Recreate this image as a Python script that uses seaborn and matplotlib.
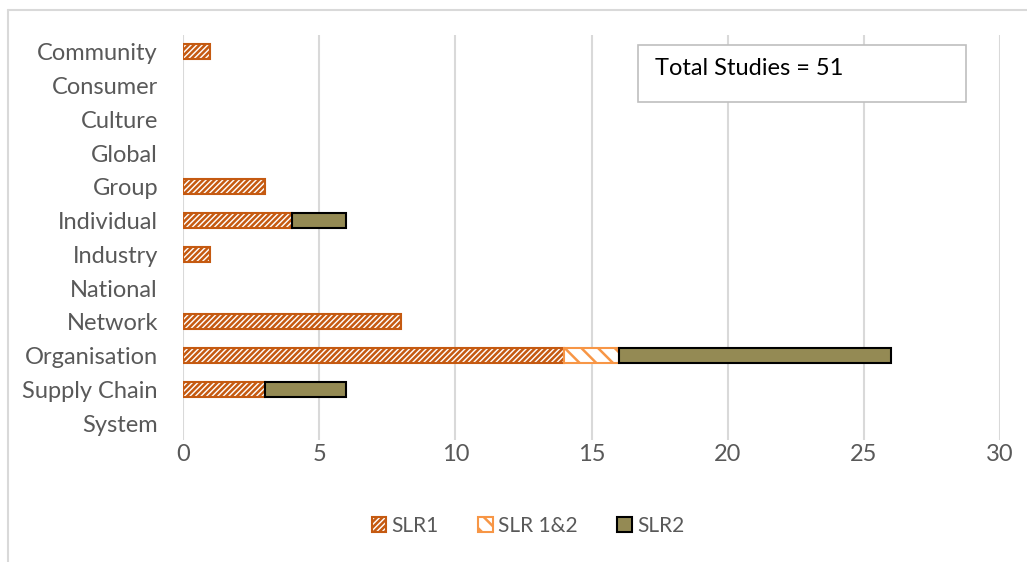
import matplotlib
matplotlib.use("Agg")
import matplotlib.pyplot as plt
from matplotlib.patches import Rectangle, Patch
from matplotlib.lines import Line2D
import seaborn as sns
import pandas as pd
import numpy as np

# Study counts per level of analysis
categories = ["Community", "Consumer", "Culture", "Global", "Group", "Individual",
              "Industry", "National", "Network", "Organisation", "Supply Chain", "System"]
slr1 = [1, 0, 0, 0, 3, 4, 1, 0, 8, 14, 3, 0]
slr12 = [0, 0, 0, 0, 0, 0, 0, 0, 0, 2, 0, 0]
slr2 = [0, 0, 0, 0, 0, 2, 0, 0, 0, 10, 3, 0]
series_names = ["SLR1", "SLR 1&2", "SLR2"]
x_ticks = [0, 5, 10, 15, 20, 25, 30]
total_label = "Total Studies = 51"

sns.set_theme(style="white")
plt.rcParams["font.family"] = ["Lato", "DejaVu Sans"]
plt.rcParams["hatch.linewidth"] = 1.8

text_grey = "#595959"
grid_grey = "#d9d9d9"
fs = 17
styles = {
    "SLR1": dict(facecolor="white", edgecolor="#C55A11", hatch="//////", linewidth=1.5),
    "SLR 1&2": dict(facecolor="white", edgecolor="#F79646", hatch="\\\\", linewidth=1.5),
    "SLR2": dict(facecolor="#948A54", edgecolor="black", hatch=None, linewidth=1.5),
}

fig = plt.figure(figsize=(10.27, 5.62), dpi=100)
ax = fig.add_axes([183 / 1027, 1 - 440 / 562, (1000 - 183) / 1027, (440 - 35) / 562])

values = {"SLR1": slr1, "SLR 1&2": slr12, "SLR2": slr2}
start = np.zeros(len(categories))
for name in series_names:
    vals = np.array(values[name], dtype=float)
    df = pd.DataFrame({"category": categories, "value": vals})
    df = df[df["value"] > 0]
    st = styles[name]
    n_before = len(ax.patches)
    sns.barplot(data=df, y="category", x="value", order=categories, orient="h",
                width=0.45, errorbar=None, ax=ax,
                facecolor=st["facecolor"], edgecolor=st["edgecolor"],
                hatch=st["hatch"], linewidth=st["linewidth"])
    # stack each segment after the previous series
    for p in ax.patches[n_before:]:
        idx = int(round(p.get_y() + p.get_height() / 2))
        p.set_x(start[idx])
    start = start + vals

ax.set_xlim(0, 30)
ax.set_ylim(len(categories) - 0.5, -0.5)
ax.set_xticks(x_ticks)
ax.set_xlabel("")
ax.set_ylabel("")
ax.grid(axis="x", color=grid_grey, linewidth=1.5)
ax.set_axisbelow(True)
for s in ax.spines.values():
    s.set_visible(False)
ax.tick_params(axis="both", length=0, labelcolor=text_grey, labelsize=fs)
ax.tick_params(axis="y", pad=18)
ax.tick_params(axis="x", pad=3)

# Summary box
fig.add_artist(Rectangle((638 / 1027, 1 - 102 / 562), (966 - 638) / 1027, (102 - 45) / 562,
                         transform=fig.transFigure, facecolor="white",
                         edgecolor="#bfbfbf", linewidth=1.2))
fig.text(655 / 1027, 1 - 68 / 562, total_label, ha="left", va="center",
         fontsize=fs, color="black")

# Legend
handles = [Patch(**{k: v for k, v in styles[n].items()}, label=n) for n in series_names]
fig.legend(handles=handles, loc="center", bbox_to_anchor=(528 / 1027, 1 - 526 / 562),
           ncol=3, frameon=False, handlelength=0.7, handleheight=0.7,
           handletextpad=0.25, columnspacing=1.9, fontsize=15, labelcolor=text_grey)

# Chart area border
fig.add_artist(Line2D([8 / 1027, 8 / 1027], [0, 1 - 10 / 562], transform=fig.transFigure,
                      color=grid_grey, linewidth=1.5))
fig.add_artist(Line2D([8 / 1027, 1], [1 - 10 / 562, 1 - 10 / 562], transform=fig.transFigure,
                      color=grid_grey, linewidth=1.5))

fig.savefig("out.png", dpi=100)
